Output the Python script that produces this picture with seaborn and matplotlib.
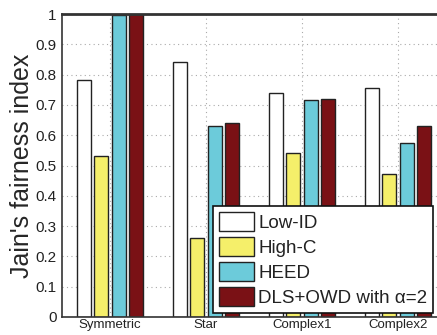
import matplotlib
matplotlib.use("Agg")
import matplotlib.pyplot as plt
import seaborn as sns
import pandas as pd

categories = ["Symmetric", "Star", "Complex1", "Complex2"]
methods = ["Low-ID", "High-C", "HEED", "DLS+OWD with α=2"]
low_id = [0.781, 0.841, 0.740, 0.756]
high_c = [0.531, 0.261, 0.540, 0.471]
heed = [0.996, 0.630, 0.715, 0.575]
dls_owd = [1.000, 0.640, 0.720, 0.630]
yticks = [0, 0.1, 0.2, 0.3, 0.4, 0.5, 0.6, 0.7, 0.8, 0.9, 1]
ytick_labels = ["0", "0.1", "0.2", "0.3", "0.4", "0.5", "0.6", "0.7", "0.8", "0.9", "1"]
colors = ["#FFFFFF", "#F5EF6A", "#6CCBDA", "#7A1115"]

rows = []
for m, vals in zip(methods, [low_id, high_c, heed, dls_owd]):
    for c, v in zip(categories, vals):
        rows.append({"cat": c, "method": m, "val": v})
df = pd.DataFrame(rows)

sns.set_style("white")
plt.rcParams["font.family"] = ["Liberation Sans", "DejaVu Sans"]

fig = plt.figure(figsize=(4.37, 3.35), dpi=100)
W, H = 437, 335
ax = fig.add_axes([62 / W, (H - 317) / H, 384 / W, 303 / H])

sns.barplot(data=df, x="cat", y="val", hue="method", order=categories,
            hue_order=methods, palette=colors, width=0.73, gap=0.2,
            edgecolor="#222222", linewidth=1.0, saturation=1, ax=ax, legend=True)

ax.set_xlim(-0.5, 3.5)
ax.set_ylim(0, 1)
ax.set_yticks(yticks)
ax.set_yticklabels(ytick_labels)
ax.set_xlabel("")
ax.set_ylabel("Jain's fairness index", fontsize=18, labelpad=1)
ax.tick_params(axis="both", direction="in", length=3, color="#222222",
               labelcolor="#222222")
ax.tick_params(axis="x", labelsize=9.5, pad=1.5)
ax.tick_params(axis="y", labelsize=11, pad=4)
ax.grid(True, linestyle=(0, (1, 3)), color="#aaaaaa", linewidth=0.8)
ax.set_axisbelow(True)
for s in ["top", "left", "bottom", "right"]:
    ax.spines[s].set_visible(True)
    ax.spines[s].set_color("#333333")
    ax.spines[s].set_linewidth(1.2)
ax.spines["top"].set_linewidth(2.0)

leg = ax.legend(loc="upper left", bbox_to_anchor=(213 / W, (H - 206) / H),
                bbox_transform=fig.transFigure, fontsize=13.5, frameon=True,
                fancybox=False, edgecolor="#111111", framealpha=1,
                borderpad=0.3, labelspacing=0.28, handlelength=1.9, handleheight=1.2,
                handletextpad=0.2, borderaxespad=0)
leg.get_frame().set_linewidth(1.2)
for t in leg.get_texts():
    t.set_color("#222222")

fig.savefig("out.png", dpi=100)
